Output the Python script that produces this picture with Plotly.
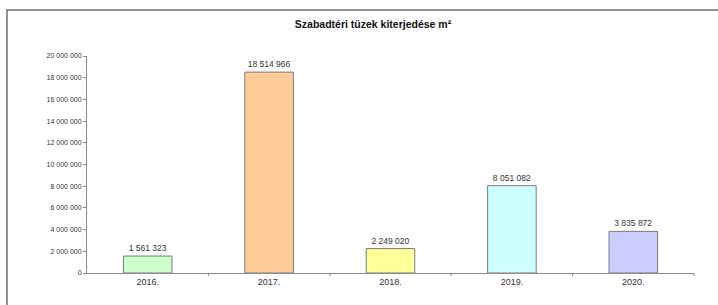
import plotly.graph_objects as go

categories = ["2016.", "2017.", "2018.", "2019.", "2020."]
values = [1561323, 18514966, 2249020, 8051082, 3835872]
value_labels = ["1 561 323", "18 514 966", "2 249 020", "8 051 082", "3 835 872"]
bar_colors = ["#CCFFCC", "#FFCC99", "#FFFF99", "#CCFFFF", "#CCCCFF"]
tick_vals = list(range(0, 20000001, 2000000))
tick_text = ["0"] + [f"{v:,}".replace(",", " ") for v in tick_vals[1:]]

L, R, T, B = 87, 24, 56, 32
W, H = 718, 305
pw, ph = W - L - R, H - T - B
FONT = "Arial, Liberation Sans, sans-serif"

fig = go.Figure(go.Bar(
    x=categories, y=values,
    marker=dict(color=bar_colors, line=dict(color="#7a7a7a", width=1)),
    width=0.4,
    text=value_labels, textposition="outside",
    textfont=dict(family=FONT, size=8.5, color="#333"),
    cliponaxis=False,
    hoverinfo="skip",
))

fig.update_layout(
    width=W, height=H,
    margin=dict(l=L, r=R, t=T, b=B),
    paper_bgcolor="white", plot_bgcolor="white",
    showlegend=False,
    title=dict(text="<b>Szabadtéri tüzek kiterjedése m²</b>",
               x=373 / W, xanchor="center", y=1 - 24 / H, yanchor="middle",
               font=dict(family=FONT, size=10.5, color="#111")),
    xaxis=dict(showline=True, linecolor="#8a8a8a", linewidth=1,
               ticks="", showgrid=False,
               tickfont=dict(family=FONT, size=9, color="#333")),
    yaxis=dict(range=[0, 20000000], tickvals=tick_vals, ticktext=tick_text,
               showline=True, linecolor="#8a8a8a", linewidth=1,
               ticks="outside", ticklen=3, tickcolor="#8a8a8a",
               showgrid=False, zeroline=False,
               tickfont=dict(family=FONT, size=7, color="#333")),
)

# category divider ticks on x axis
for i in range(1, 6):
    xp = i / 5
    fig.add_shape(type="line", xref="paper", yref="paper",
                  x0=xp, x1=xp, y0=0, y1=-3 / ph,
                  line=dict(color="#8a8a8a", width=1))

# outer chart border
fig.add_shape(type="rect", xref="paper", yref="paper",
              x0=(7 - L) / pw, x1=(W + 5 - L) / pw,
              y0=-(H + 5 - (H - B)) / ph, y1=1 + (T - 10) / ph,
              line=dict(color="#6e6e6e", width=1.5), fillcolor="rgba(0,0,0,0)")

fig.write_html("out.html", config={"displayModeBar": False},
               post_script="document.body.style.margin='0';document.body.style.overflow='hidden';")
